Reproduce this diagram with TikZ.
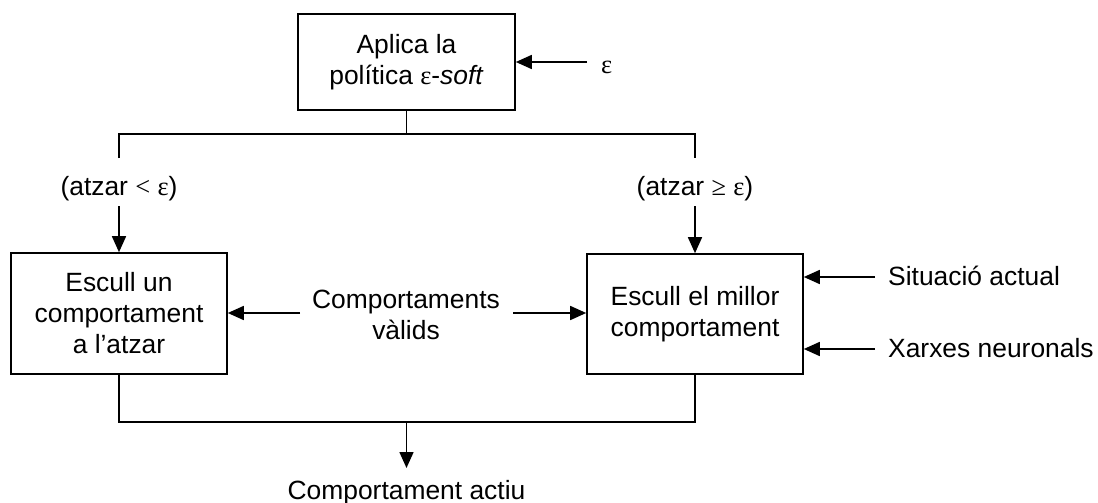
\documentclass[tikz,border=0pt]{standalone}
\usepackage{fontspec}
\setmainfont{Liberation Sans}
\newfontfamily\symf{Liberation Serif}
\usetikzlibrary{arrows.meta}
\begin{document}
\begin{tikzpicture}[x=1pt,y=-1pt,
  every node/.style={font=\fontsize{26.4}{31}\selectfont},
  box/.style={draw, line width=1.6pt, minimum width=216pt, minimum height=120pt,
              align=center, inner sep=0pt},
  lbl/.style={inner sep=0pt, align=center},
  conn/.style={line width=1.6pt},
  arr/.style={conn, -{Triangle[length=16pt,width=14pt]}}]
\useasboundingbox (0,0) rectangle (1098,503);

% main blocks
\node[box, minimum width=217pt, minimum height=96pt] (pol) at (406.5,62)
  {Aplica la\\política {\symf ε}-\textit{soft}};
\node[box, minimum height=121pt] (rand) at (119,313.5) {Escull un\\comportament\\a l’atzar};
\node[box] (best) at (695,314) {Escull el millor\\comportament};

% epsilon input
\coordinate (epsin) at (587,62);
\node[lbl, anchor=base west] (eps) at (601,74) {\symf ε};
\draw[arr] (epsin) -- (pol.east);

% branching by the random draw
\coordinate (split) at (406.5,134);
\coordinate (lsplit) at (119,134);
\coordinate (rsplit) at (695,134);
\coordinate (lend) at (119,158);
\coordinate (rend) at (695,158);
\coordinate (ltop) at (119,206);
\coordinate (rtop) at (695,206);
\draw[conn] (pol.south) -- (split);
\draw[conn] (lend) -- (lsplit) -- (rsplit) -- (rend);
\node[lbl, anchor=base] (lcond) at (119,195) {(atzar {\symf <} {\symf ε})};
\node[lbl, anchor=base] (rcond) at (695,195) {(atzar {\symf ≥} {\symf ε})};
\draw[arr] (ltop) -- (rand.north);
\draw[arr] (rtop) -- (best.north);

% valid behaviours feed both blocks
\node[lbl] (valid) at (406,315) {Comportaments\\vàlids};
\coordinate (vl) at (300,313);
\coordinate (vr) at (513,313);
\draw[arr] (vl) -- (rand.east |- vl);
\draw[arr] (vr) -- (best.west |- vr);

% inputs of the greedy choice
\coordinate (sit) at (875,277);
\coordinate (xar) at (875,349);
\node[lbl, anchor=base west] (sitl) at (888,285) {Situació actual};
\node[lbl, anchor=base west] (xarl) at (888,357) {Xarxes neuronals};
\draw[arr] (sit) -- (best.east |- sit);
\draw[arr] (xar) -- (best.east |- xar);

% merge into the active behaviour
\coordinate (ljoin) at (119,422);
\coordinate (rjoin) at (695,422);
\coordinate (out) at (406.5,422);
\coordinate (outtip) at (406.5,468);
\draw[conn] (rand.south) -- (ljoin) -- (rjoin) -- (best.south);
\draw[arr] (out) -- (outtip);
\node[lbl, anchor=base] (act) at (406.5,499) {Comportament actiu};
\end{tikzpicture}
\end{document}
